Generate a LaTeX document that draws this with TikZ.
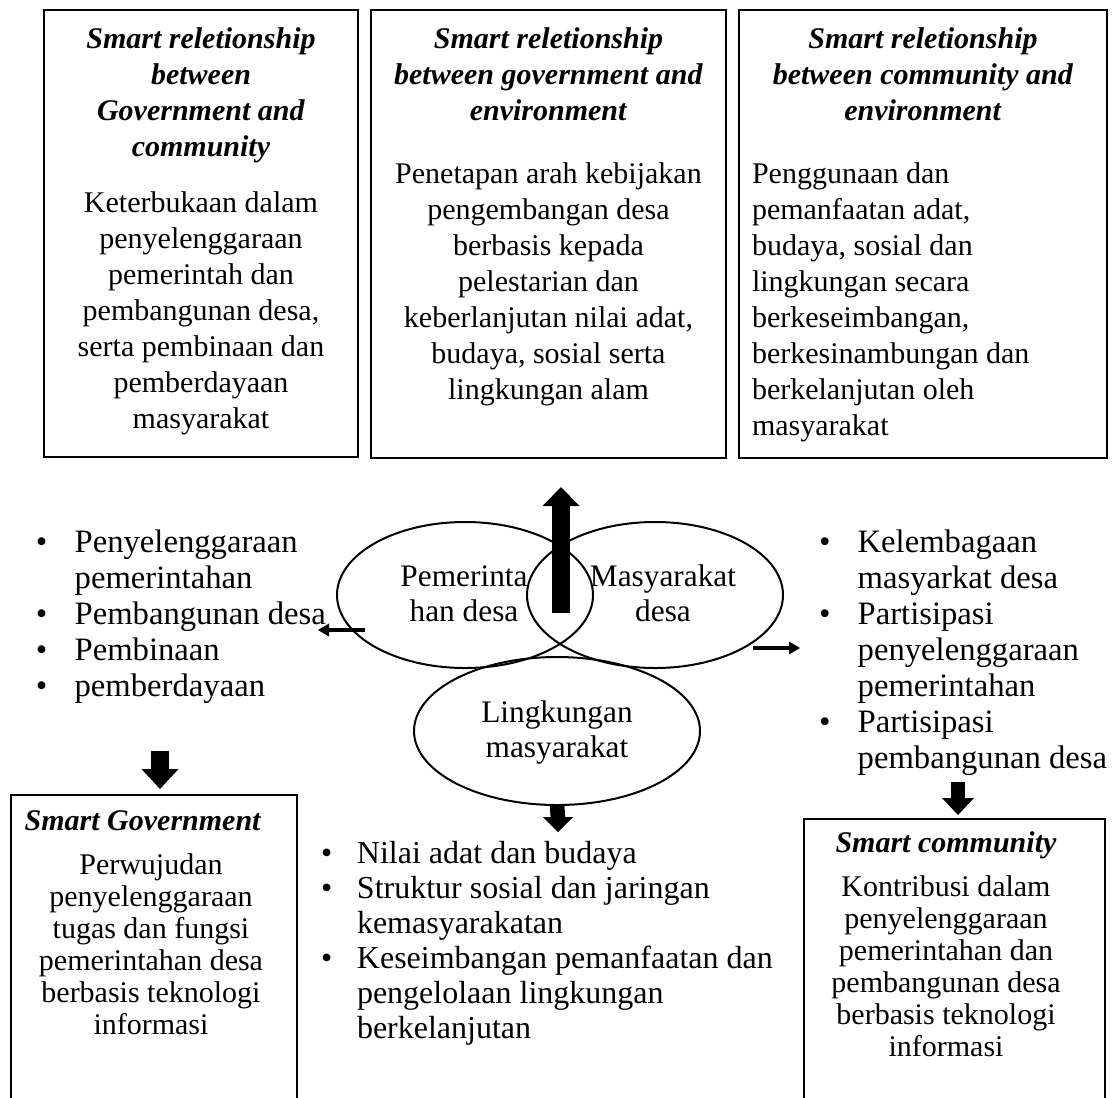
\documentclass[tikz,border=0pt]{standalone}
\usepackage{fontspec}
\setmainfont{Liberation Serif}
\usetikzlibrary{shapes.geometric,calc}
\newcommand\ttl[1]{\textbf{\textit{#1}}}
\begin{document}
\begin{tikzpicture}[x=0.75pt,y=-0.75pt,
  every node/.style={font=\fontsize{22.5pt}{27pt}\selectfont, inner sep=0pt, outer sep=0pt},
  box/.style={draw, line width=1.1pt, rectangle, anchor=north west},
  oval/.style={draw, line width=1.5pt, ellipse, inner sep=0pt},
  txt/.style={anchor=base},
  ltxt/.style={anchor=base west},
  tight/.style={font=\fontsize{22.5pt}{24pt}\selectfont},
  midsp/.style={font=\fontsize{23.5pt}{26.25pt}\selectfont},
  listf/.style={font=\fontsize{24.5pt}{27pt}\selectfont},
]
\useasboundingbox (0,0) rectangle (1120,1097);
\clip (0,0) rectangle (1120,1097);

% top boxes
\node[box, minimum width=235.5pt, minimum height=335.25pt] (b1) at (44,10) {};
\node[box, minimum width=266.25pt, minimum height=336pt] (b2) at (371,10) {};
\node[box, minimum width=276pt, minimum height=336pt] (b3) at (739,10) {};

\node[txt] (b1t) at (201,48) {\begin{tabular}[t]{@{}c@{}}
\ttl{Smart reletionship}\\ \ttl{between}\\ \ttl{Government and}\\ \ttl{community}\\[15pt]
Keterbukaan dalam\\ penyelenggaraan\\ pemerintah dan\\ pembangunan desa,\\ serta pembinaan dan\\ pemberdayaan\\ masyarakat
\end{tabular}};

\node[txt] (b2t) at (548.5,48) {\begin{tabular}[t]{@{}c@{}}
\ttl{Smart reletionship}\\ \ttl{between government and}\\ \ttl{environment}\\[20.25pt]
Penetapan arah kebijakan\\ pengembangan desa\\ berbasis kepada\\ pelestarian dan\\ keberlanjutan nilai adat,\\ budaya, sosial serta\\ lingkungan alam
\end{tabular}};

\node[txt] (b3t) at (923,48) {\begin{tabular}[t]{@{}c@{}}
\ttl{Smart reletionship}\\ \ttl{between community and}\\ \ttl{environment}
\end{tabular}};
\node[ltxt] (b3b) at (752,183) {\begin{tabular}[t]{@{}l@{}}
Penggunaan dan\\ pemanfaatan adat,\\ budaya, sosial dan\\ lingkungan secara\\ berkeseimbangan,\\ berkesinambungan dan\\ berkelanjutan oleh\\ masyarakat
\end{tabular}};

% ellipses
\node[oval, minimum width=192pt, minimum height=109.5pt] (e1) at (465,595) {};
\node[oval, minimum width=192pt, minimum height=109.5pt] (e2) at (655,595) {};
\node[oval, minimum width=214.5pt, minimum height=111pt] (e3) at (557,731) {};
\node[txt, midsp] (e1t) at (464,586) {\begin{tabular}[t]{@{}c@{}}Pemerinta\\ han desa\end{tabular}};
\node[txt, midsp] (e2t) at (663,586) {\begin{tabular}[t]{@{}c@{}}Masyarakat\\ desa\end{tabular}};
\node[txt, midsp] (e3t) at (557,722) {\begin{tabular}[t]{@{}c@{}}Lingkungan\\ masyarakat\end{tabular}};

% side lists
\node[ltxt, listf] (ll) at (36,552) {\begin{tabular}[t]{@{}p{29pt}@{}l@{}}
\textbullet & Penyelenggaraan\\ & pemerintahan\\ \textbullet & Pembangunan desa\\ \textbullet & Pembinaan\\ \textbullet & pemberdayaan
\end{tabular}};
\node[ltxt, listf] (rl) at (819,552) {\begin{tabular}[t]{@{}p{29pt}@{}l@{}}
\textbullet & Kelembagaan\\ & masyarkat desa\\ \textbullet & Partisipasi\\ & penyelenggaraan\\ & pemerintahan\\ \textbullet & Partisipasi\\ & pembangunan desa
\end{tabular}};
\node[ltxt, font=\fontsize{24pt}{26.25pt}\selectfont] (ml) at (321,863) {\begin{tabular}[t]{@{}p{27pt}@{}l@{}}
\textbullet & Nilai adat dan budaya\\ \textbullet & Struktur sosial dan jaringan\\ & kemasyarakatan\\ \textbullet & Keseimbangan pemanfaatan dan\\ & pengelolaan lingkungan\\ & berkelanjutan
\end{tabular}};

% bottom boxes
\node[box, minimum width=214.5pt, minimum height=243.75pt] (sg) at (11,795) {};
\node[box, minimum width=225.75pt, minimum height=225.75pt] (sc) at (804,819) {};
\node[txt, tight] (sgt) at (151,830) {\begin{tabular}[t]{@{}c@{}}
\hspace*{-12pt}\ttl{Smart Government}\\[9pt]
Perwujudan\\ penyelenggaraan\\ tugas dan fungsi\\ pemerintahan desa\\ berbasis teknologi\\ informasi
\end{tabular}};
\node[txt, tight] (sct) at (946,852) {\begin{tabular}[t]{@{}c@{}}
\ttl{Smart community}\\[9pt]
Kontribusi dalam\\ penyelenggaraan\\ pemerintahan dan\\ pembangunan desa\\ berbasis teknologi\\ informasi
\end{tabular}};

% arrows
% up arrow
\coordinate (uA) at (561,613); \coordinate (uB) at (561,487);
\draw[line width=13.5pt] (uA) -- ($(uB)+(0,18)$);
\fill (uB) -- ($(uB)+(-18.5,19)$) -- ($(uB)+(18.5,19)$) -- cycle;
% left down arrow
\coordinate (dlA) at (160,751); \coordinate (dlB) at (160,789);
\draw[line width=13.5pt] (dlA) -- ($(dlB)+(0,-19)$);
\fill (dlB) -- ($(dlB)+(-18.5,-20)$) -- ($(dlB)+(18.5,-20)$) -- cycle;
% middle down arrow
\coordinate (dmA) at (e3.south); \coordinate (dmB) at (558,832);
\draw[line width=11pt] (dmA) -- ($(dmB)+(0,-14)$);
\fill (dmB) -- ($(dmB)+(-15,-15)$) -- ($(dmB)+(15,-15)$) -- cycle;
% right down arrow
\coordinate (drA) at (958,782); \coordinate (drB) at (958,815);
\draw[line width=10.5pt] (drA) -- ($(drB)+(0,-16)$);
\fill (drB) -- ($(drB)+(-16,-17)$) -- ($(drB)+(16,-17)$) -- cycle;
% small horizontal arrows
\coordinate (hlA) at (365,630); \coordinate (hlB) at (318,630);
\draw[line width=3.5pt] (hlA) -- ($(hlB)+(10,0)$);
\fill (hlB) -- ($(hlB)+(11,-6.5)$) -- ($(hlB)+(11,6.5)$) -- cycle;
\coordinate (hrA) at (753,648); \coordinate (hrB) at (800,648);
\draw[line width=3.5pt] (hrA) -- ($(hrB)+(-10,0)$);
\fill (hrB) -- ($(hrB)+(-11,-6.5)$) -- ($(hrB)+(-11,6.5)$) -- cycle;
\end{tikzpicture}
\end{document}
